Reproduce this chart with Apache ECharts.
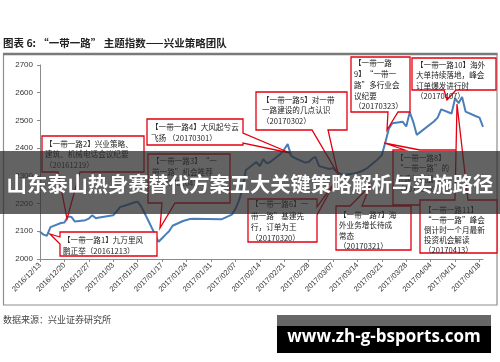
<!DOCTYPE html>
<html>
<head>
<meta charset="utf-8">
<script src="https://cdn.jsdelivr.net/npm/echarts@6.0.0/dist/echarts.min.js"></script>
<style>
html,body{margin:0;padding:0;background:#fff;}
#chart{width:500px;height:362px;}
</style>
</head>
<body>
<div id="chart"></div>
<script>
// "一带一路" theme index, daily closes
const dates = [
  '2016/12/13','2016/12/14','2016/12/15','2016/12/16','2016/12/19','2016/12/20','2016/12/21','2016/12/22','2016/12/23',
  '2016/12/26','2016/12/27','2016/12/28','2016/12/29','2016/12/30',
  '2017/01/03','2017/01/04','2017/01/05','2017/01/06','2017/01/09','2017/01/10','2017/01/11','2017/01/12','2017/01/13',
  '2017/01/16','2017/01/17','2017/01/18','2017/01/19','2017/01/20','2017/01/23','2017/01/24','2017/01/25','2017/01/26',
  '2017/02/03','2017/02/06','2017/02/07','2017/02/08','2017/02/09','2017/02/10','2017/02/13','2017/02/14','2017/02/15',
  '2017/02/16','2017/02/17','2017/02/20','2017/02/21','2017/02/22','2017/02/23','2017/02/24','2017/02/27','2017/02/28',
  '2017/03/01','2017/03/02','2017/03/03','2017/03/06','2017/03/07','2017/03/08','2017/03/09','2017/03/10','2017/03/13',
  '2017/03/14','2017/03/15','2017/03/16','2017/03/17','2017/03/20','2017/03/21','2017/03/22','2017/03/23','2017/03/24',
  '2017/03/27','2017/03/28','2017/03/29','2017/03/30','2017/03/31','2017/04/05','2017/04/06','2017/04/07','2017/04/10',
  '2017/04/11','2017/04/12','2017/04/13','2017/04/14','2017/04/17','2017/04/18','2017/04/19'
];
const values = [
  2098, 2088, 2084, 2115, 2130, 2132, 2153, 2152, 2135,
  2140, 2146, 2158, 2147, 2150,
  2158, 2172, 2188, 2191, 2204, 2207, 2190, 2165, 2140,
  2062, 2075, 2088, 2100, 2120, 2137, 2141, 2144, 2145,
  2143, 2160, 2180, 2210, 2250, 2320, 2350, 2335, 2360,
  2345, 2350, 2380, 2395, 2415, 2372, 2365, 2348, 2350,
  2362, 2368, 2335, 2325, 2328, 2315, 2308, 2303, 2309,
  2312, 2316, 2322, 2330, 2362, 2375, 2420, 2470, 2490,
  2495, 2478, 2530, 2495, 2448, 2497, 2510, 2540, 2525,
  2580, 2562, 2585, 2532, 2515, 2510, 2477
];
const tickLabels = [
  '2016/12/13','2016/12/20','2016/12/27','2017/01/03','2017/01/10','2017/01/17','2017/01/24',
  '2017/01/31','2017/02/07','2017/02/14','2017/02/21','2017/02/28','2017/03/07','2017/03/14',
  '2017/03/21','2017/03/28','2017/04/04','2017/04/11','2017/04/18'
];
const yMin = 2000, yMax = 2700, yStep = 100;

const titleText = '图表 6: “一带一路” 主题指数——兴业策略团队';
const sourceText = '数据来源：兴业证券研究所';
const bannerText = '山东泰山热身赛替代方案五大关键策略解析与实施路径';
const siteText = 'www.zh-g-bsports.com';

// callout notes
const notes = [
  ['【一带一路1】九万里风', '鹏正举（20161213）'],
  ['【一带一路2】兴业策略、', '建筑、机械电话会议纪要', '（20161219）'],
  ['【一带一路3】“一', '带一路”机会推荐', '（20170104）'],
  ['【一带一路4】大风起兮云', '飞扬 （20170301）'],
  ['【一带一路5】对一带', '一路建设的几点认识', '（20170302）'],
  ['【一带一路6】一', '带一路”基建先', '行，订单为王', '（20170320）'],
  ['【一带一路7】海', '外业务增长待成', '常态', '（20170321）'],
  ['【一带一路8】', '“一带一路”的', '机遇与挑战', '（20170322）'],
  ['【一带一路', '9】“一带一', '路”多行业会', '议纪要', '（20170323）'],
  ['【一带一路10】海外', '大单持续落地，峰会', '订单爆发进行时', '（20170407）'],
  ['【一带一路11】', '“一带一路”峰会', '倒计时一个月最新', '投资机会解读', '（20170413）']
];

const DAY = 86400000;
const t0 = Date.parse(tickLabels[0]);
const dayOf = d => Math.round((Date.parse(d) - t0) / DAY);
const tickOffsets = tickLabels.map(dayOf);
const labelAt = {};
tickOffsets.forEach((o, i) => { labelAt[o] = tickLabels[i]; });

const CJK = '"Noto Sans CJK SC", "Noto Sans", sans-serif';
const RED = '#E3000F';

// callout shapes: outline polygon + text anchor
const calloutLayout = [
  { pts: [[60,232],[157,232],[157,256],[60,256],[60,244],[50,234],[60,237]], tx: 63, ty: 240.5, lh: 10.5 },
  { pts: [[42,136],[144,136],[144,172],[80,172],[67,219],[58,172],[42,172]], tx: 45, ty: 144, lh: 10.5 },
  { pts: [[148,154],[230,154],[230,203],[175,203],[160,228],[162,203],[148,203]], tx: 152, ty: 161, lh: 11 },
  { pts: [[147,119],[243,119],[243,133],[290,153],[243,143],[243,145],[147,145]], tx: 151, ty: 127.3, lh: 11 },
  { pts: [[256,92],[347,92],[347,130],[328,130],[338,174],[312,130],[256,130]], tx: 262, ty: 100, lh: 10.6 },
  { pts: [[248,199],[317,199],[317,207],[335,182],[317,215],[317,242],[248,242]], tx: 251, ty: 204.5, lh: 11.2 },
  { pts: [[336,206],[350,206],[370,186],[362,206],[411,206],[411,250],[336,250]], tx: 339, ty: 215, lh: 10.5 },
  { pts: [[393,150],[405,150],[384,143],[420,150],[460,150],[460,205],[393,205]], tx: 396, ty: 158, lh: 10.5 },
  { pts: [[351,57],[410,57],[410,112],[398,112],[387,130],[388,112],[351,112]], tx: 354, ty: 63.3, lh: 10.8 },
  { pts: [[412,58],[496,58],[496,90],[456,90],[447,100],[444,90],[412,90]], tx: 416, ty: 65, lh: 10.5 },
  { pts: [[420,200],[455,200],[457,104],[468,200],[497,200],[497,253],[420,253]], tx: 424, ty: 210, lh: 10 }
];

const graphics = [];
// outer frame
graphics.push({ type: 'rect', shape: { x: 3.5, y: 54, width: 493.5, height: 251 },
  style: { fill: 'none', stroke: '#8e8e8e', lineWidth: 1.2 }, z: 1, silent: true });
graphics.push({ type: 'line', shape: { x1: 3, y1: 54, x2: 497.5, y2: 54 },
  style: { stroke: '#7a7a7a', lineWidth: 2.4 }, z: 1, silent: true });
// heading and source
graphics.push({ type: 'text', x: 3, y: 43.5, style: { text: titleText, fill: '#222',
  font: 'bold 10.5px ' + CJK, verticalAlign: 'middle' }, z: 5 });
graphics.push({ type: 'text', x: 3, y: 319.5, style: { text: sourceText, fill: '#444',
  font: '9px ' + CJK, verticalAlign: 'middle' }, z: 5 });

notes.forEach((lines, i) => {
  const c = calloutLayout[i];
  graphics.push({ type: 'polygon', shape: { points: c.pts },
    style: { fill: '#fff', stroke: RED, lineWidth: 1.3 }, z: 20, silent: true });
  graphics.push({ type: 'text', x: c.tx, y: c.ty - c.lh / 2,
    style: { text: lines.join('\n'), fill: '#222', font: '7.6px ' + CJK,
      lineHeight: c.lh, verticalAlign: 'top' }, z: 21, silent: true });
});

// headline band across the chart
graphics.push({ type: 'rect', shape: { x: 0, y: 151, width: 500, height: 63 },
  style: { fill: 'rgba(45,45,45,0.74)' }, z: 100, silent: true });
graphics.push({ type: 'text', x: 250, y: 184, style: { text: bannerText, fill: '#fff',
  font: 'bold 20.3px ' + CJK, align: 'center', verticalAlign: 'middle' }, z: 101, silent: true });

// site badge
graphics.push({ type: 'rect', shape: { x: 277, y: 315, width: 214, height: 11 },
  style: { fill: '#666' }, z: 100, silent: true });
graphics.push({ type: 'rect', shape: { x: 277, y: 326, width: 214, height: 27 },
  style: { fill: '#000' }, z: 100, silent: true });
graphics.push({ type: 'text', x: 384, y: 337.5, style: { text: siteText, fill: '#fff',
  font: 'bold 17px "Open Sans", "DejaVu Sans", sans-serif', align: 'center', verticalAlign: 'middle' }, z: 101, silent: true });

const chart = echarts.init(document.getElementById('chart'), null, { renderer: 'canvas' });
chart.setOption({
  animation: false,
  backgroundColor: '#fff',
  grid: { left: 40, right: 17, top: 65, bottom: 103 },
  xAxis: {
    type: 'value',
    min: 0,
    max: dayOf(dates[dates.length - 1]),
    splitLine: { show: false },
    axisLine: { lineStyle: { color: '#8a8a8a', width: 1 } },
    axisTick: { customValues: tickOffsets, length: 3, lineStyle: { color: '#8a8a8a' } },
    axisLabel: {
      customValues: tickOffsets,
      rotate: 45,
      margin: 5,
      fontSize: 7.5,
      color: '#333',
      fontFamily: '"Liberation Sans", Arial, sans-serif',
      formatter: v => labelAt[v] || ''
    }
  },
  yAxis: {
    type: 'value',
    min: yMin,
    max: yMax,
    interval: yStep,
    splitLine: { show: false },
    axisLine: { show: true, lineStyle: { color: '#8a8a8a', width: 1 } },
    axisTick: { show: true, length: 3, lineStyle: { color: '#8a8a8a' } },
    axisLabel: { fontSize: 8, color: '#333', margin: 7,
      fontFamily: '"Liberation Sans", Arial, sans-serif', formatter: v => String(v) }
  },
  series: [{
    type: 'line',
    data: dates.map((d, i) => [dayOf(d), values[i]]),
    showSymbol: false,
    lineStyle: { color: '#4A7EBB', width: 2 },
    z: 3
  }],
  graphic: { elements: graphics }
});
</script>
</body>
</html>
